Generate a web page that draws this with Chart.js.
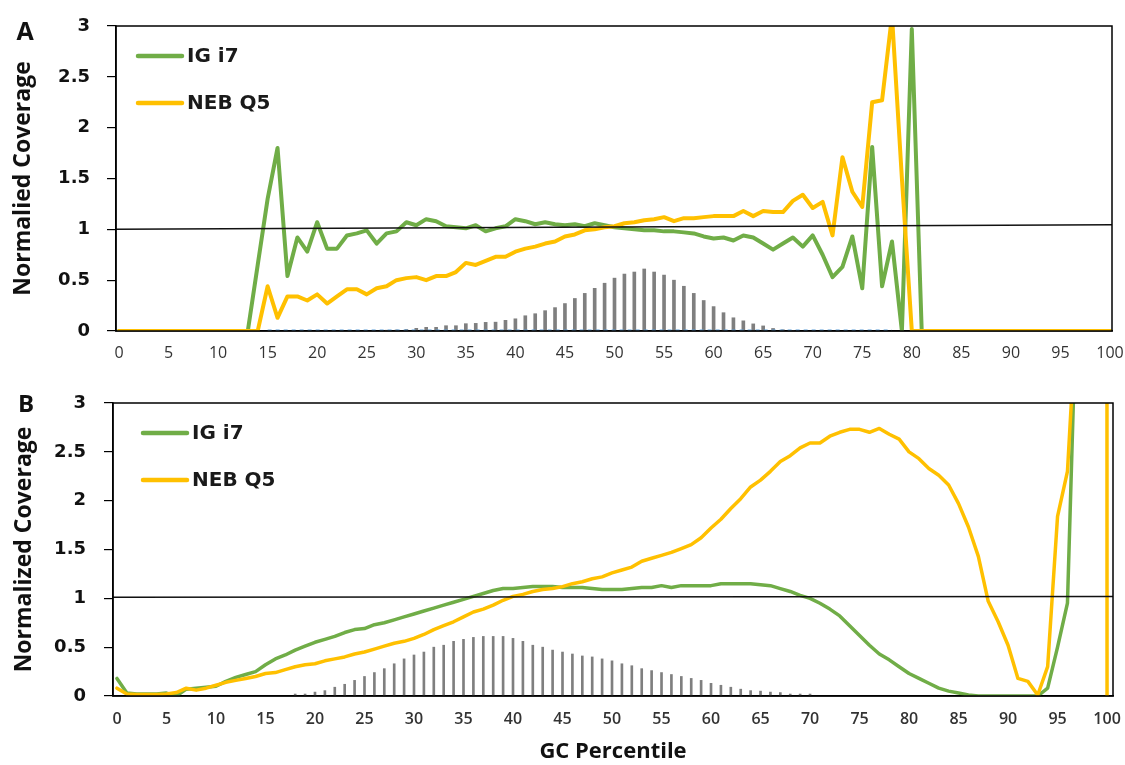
<!DOCTYPE html>
<html lang="en">
<head>
  <meta charset="UTF-8">
  <title>GC Percentile coverage</title>
  <script src="https://cdn.jsdelivr.net/npm/chart.js"></script>
  <style>
    body { margin: 0; background: #fff; }
    .panel { position: absolute; left: 0; }
    #panelA { top: 0; }
    #panelB { top: 375px; }
  </style>
</head>
<body>
  <div class="panel" id="panelA"><canvas id="chartA" width="1125" height="370"></canvas></div>
  <div class="panel" id="panelB"><canvas id="chartB" width="1125" height="390"></canvas></div>

  <script>
    // GC percentile 0..100
    const gcPercentile = [
      0, 1, 2, 3, 4, 5, 6, 7, 8, 9,
      10, 11, 12, 13, 14, 15, 16, 17, 18, 19,
      20, 21, 22, 23, 24, 25, 26, 27, 28, 29,
      30, 31, 32, 33, 34, 35, 36, 37, 38, 39,
      40, 41, 42, 43, 44, 45, 46, 47, 48, 49,
      50, 51, 52, 53, 54, 55, 56, 57, 58, 59,
      60, 61, 62, 63, 64, 65, 66, 67, 68, 69,
      70, 71, 72, 73, 74, 75, 76, 77, 78, 79,
      80, 81, 82, 83, 84, 85, 86, 87, 88, 89,
      90, 91, 92, 93, 94, 95, 96, 97, 98, 99,
      100
    ];
    const xTickLabels = [0, 5, 10, 15, 20, 25, 30, 35, 40, 45, 50, 55, 60, 65, 70, 75, 80, 85, 90, 95, 100];

    // Panel A
    const igA = [
      0, 0, 0, 0, 0, 0, 0, 0, 0, 0,
      0, 0, 0, 0, 0.65, 1.3, 1.8, 0.54, 0.92, 0.78,
      1.07, 0.81, 0.81, 0.94, 0.96, 0.99, 0.86, 0.96, 0.98, 1.07,
      1.04, 1.10, 1.08, 1.03, 1.02, 1.01, 1.04, 0.98, 1.01, 1.03,
      1.10, 1.08, 1.05, 1.07, 1.05, 1.04, 1.05, 1.03, 1.06, 1.04,
      1.02, 1.01, 1.00, 0.99, 0.99, 0.98, 0.98, 0.97, 0.96, 0.93,
      0.91, 0.92, 0.89, 0.94, 0.92, 0.86, 0.80, 0.86, 0.92, 0.83,
      0.94, 0.75, 0.53, 0.63, 0.93, 0.42, 1.81, 0.44, 0.88, 0,
      2.97, 0, 0, 0, 0, 0, 0, 0, 0, 0,
      0, 0, 0, 0, 0, 0, 0, 0, 0, 0,
      0
    ];
    const nebA = [
      0, 0, 0, 0, 0, 0, 0, 0, 0, 0,
      0, 0, 0, 0, 0, 0.44, 0.13, 0.34, 0.34, 0.30,
      0.36, 0.27, 0.34, 0.41, 0.41, 0.36, 0.42, 0.44, 0.50, 0.52,
      0.53, 0.50, 0.54, 0.54, 0.58, 0.67, 0.65, 0.69, 0.73, 0.73,
      0.78, 0.81, 0.83, 0.86, 0.88, 0.93, 0.95, 0.99, 1.00, 1.02,
      1.03, 1.06, 1.07, 1.09, 1.10, 1.12, 1.08, 1.11, 1.11, 1.12,
      1.13, 1.13, 1.13, 1.18, 1.13, 1.18, 1.17, 1.17, 1.28, 1.34,
      1.21, 1.27, 0.94, 1.71, 1.37, 1.22, 2.25, 2.27, 3.1, 1.5,
      0, 0, 0, 0, 0, 0, 0, 0, 0, 0,
      0, 0, 0, 0, 0, 0, 0, 0, 0, 0,
      0
    ];
    const histA = [
      null, null, null, null, null, null, null, null, null, null,
      null, null, null, null, null, null, null, null, null, null,
      null, null, null, null, null, null, null, 0.008, 0.01, 0.015,
      0.026, 0.036, 0.036, 0.052, 0.052, 0.072, 0.075, 0.085, 0.087, 0.105,
      0.12, 0.15, 0.17, 0.20, 0.23, 0.27, 0.32, 0.37, 0.42, 0.47,
      0.52, 0.56, 0.58, 0.61, 0.58, 0.55, 0.50, 0.44, 0.37, 0.30,
      0.24, 0.18, 0.13, 0.10, 0.07, 0.05, 0.025, 0.012, 0.006, null,
      null, null, null, null, null, null, null, null, null, null,
      null, null, null, null, null, null, null, null, null, null,
      null, null, null, null, null, null, null, null, null, null,
      null
    ];
    const baseA = [
      null, null, null, null, null, null, null, null, null, null,
      null, null, null, null, null, 0.008, 0.008, 0.008, 0.008, 0.008,
      0.008, 0.008, 0.008, 0.008, 0.008, 0.008, 0.008, 0.008, 0.008, 0.008,
      0.008, 0.008, 0.008, 0.008, 0.008, 0.008, 0.008, 0.008, 0.008, 0.008,
      0.008, 0.008, 0.008, 0.008, 0.008, 0.008, 0.008, 0.008, 0.008, 0.008,
      0.008, 0.008, 0.008, 0.008, 0.008, 0.008, 0.008, 0.008, 0.008, 0.008,
      0.008, 0.008, 0.008, 0.008, 0.008, 0.008, 0.008, 0.008, 0.008, 0.008,
      0.008, 0.008, 0.008, 0.008, 0.008, 0.008, 0.008, 0.008, 0.008, null,
      null, null, null, null, null, null, null, null, null, null,
      null, null, null, null, null, null, null, null, null, null,
      null
    ];
    const unityA = [1.0, 1.045];

    // Panel B
    const igB = [
      0.18, 0.03, 0.02, 0.02, 0.02, 0.03, 0.00, 0.07, 0.08, 0.09,
      0.10, 0.15, 0.19, 0.22, 0.25, 0.32, 0.38, 0.42, 0.47, 0.51,
      0.55, 0.58, 0.61, 0.65, 0.68, 0.69, 0.73, 0.75, 0.78, 0.81,
      0.84, 0.87, 0.90, 0.93, 0.96, 0.99, 1.02, 1.05, 1.08, 1.10,
      1.10, 1.11, 1.12, 1.12, 1.12, 1.11, 1.11, 1.11, 1.10, 1.09,
      1.09, 1.09, 1.10, 1.11, 1.11, 1.13, 1.11, 1.13, 1.13, 1.13,
      1.13, 1.15, 1.15, 1.15, 1.15, 1.14, 1.13, 1.10, 1.07, 1.03,
      1.00, 0.95, 0.89, 0.82, 0.72, 0.62, 0.52, 0.43, 0.37, 0.30,
      0.23, 0.18, 0.13, 0.08, 0.05, 0.03, 0.01, 0, 0, 0,
      0, 0, 0, 0, 0.08, 0.50, 0.95, 4.4, 40, 200,
      300
    ];
    const nebB = [
      0.08, 0.02, 0.015, 0.015, 0.015, 0.02, 0.035, 0.08, 0.06, 0.08,
      0.11, 0.14, 0.16, 0.18, 0.20, 0.23, 0.24, 0.27, 0.30, 0.32,
      0.33, 0.36, 0.38, 0.40, 0.43, 0.45, 0.48, 0.51, 0.54, 0.56,
      0.59, 0.63, 0.68, 0.72, 0.76, 0.81, 0.86, 0.89, 0.93, 0.98,
      1.02, 1.04, 1.07, 1.09, 1.10, 1.12, 1.15, 1.17, 1.20, 1.22,
      1.26, 1.29, 1.32, 1.38, 1.41, 1.44, 1.47, 1.51, 1.55, 1.62,
      1.72, 1.81, 1.92, 2.02, 2.14, 2.21, 2.30, 2.40, 2.46, 2.54,
      2.59, 2.59, 2.66, 2.70, 2.73, 2.73, 2.70, 2.74, 2.68, 2.63,
      2.50, 2.43, 2.33, 2.26, 2.16, 1.97, 1.73, 1.43, 0.97, 0.76,
      0.52, 0.18, 0.15, 0.01, 0.30, 1.84, 2.30, 4.1, 30, 400,
      0
    ];
    const histB = [
      null, null, null, null, null, null, null, null, null, null,
      null, null, null, null, null, null, null, null, 0.02, 0.02,
      0.04, 0.055, 0.09, 0.12, 0.16, 0.20, 0.24, 0.28, 0.33, 0.38,
      0.42, 0.45, 0.50, 0.52, 0.56, 0.58, 0.60, 0.61, 0.61, 0.61,
      0.59, 0.56, 0.52, 0.50, 0.47, 0.45, 0.43, 0.41, 0.40, 0.38,
      0.36, 0.33, 0.31, 0.28, 0.26, 0.24, 0.22, 0.20, 0.18, 0.16,
      0.13, 0.11, 0.09, 0.07, 0.055, 0.05, 0.04, 0.035, 0.02, 0.02,
      0.02, null, null, null, null, null, null, null, null, null,
      null, null, null, null, null, null, null, null, null, null,
      null, null, null, null, null, null, null, null, null, null,
      null
    ];
    const unityB = [1.01, 1.02];

    const FONT = '"Open Sans", "DejaVu Sans", sans-serif';
    const WIDE = '"DejaVu Sans", sans-serif';
    const GREEN = '#70ad47';
    const GOLD = '#ffc000';

    // frame, inside legend and panel letter
    const panelDecor = {
      id: 'panelDecor',
      afterDatasetsDraw(chart, args, opts) {
        const { ctx, chartArea: a } = chart;
        ctx.save();
        ctx.strokeStyle = '#000';
        ctx.lineWidth = 1.5;
        ctx.strokeRect(a.left, a.top, a.right - a.left, a.bottom - a.top);

        ctx.font = 'bold 20px ' + WIDE;
        ctx.textBaseline = 'middle';
        ctx.textAlign = 'left';
        const keyed = chart.data.datasets.filter(d => d.keyRank).sort((p, q) => p.keyRank - q.keyRank);
        keyed.forEach((d, i) => {
          const y = opts.keyY + i * opts.keyGap;
          ctx.strokeStyle = d.borderColor;
          ctx.lineWidth = 4.5;
          ctx.lineCap = 'round';
          ctx.beginPath();
          ctx.moveTo(opts.keyX, y);
          ctx.lineTo(opts.keyX + 44, y);
          ctx.stroke();
          ctx.fillStyle = '#1a1a1a';
          ctx.fillText(d.label, opts.keyX + 49, y + 1);
        });

        ctx.font = 'bold ' + opts.letterSize + 'px ' + FONT;
        ctx.textAlign = 'center';
        ctx.fillStyle = '#111';
        ctx.fillText(opts.letter, opts.letterX, opts.letterY);
        ctx.restore();
      }
    };

    function makePanel(canvasId, p) {
      const ctx = document.getElementById(canvasId).getContext('2d');
      return new Chart(ctx, {
        type: 'line',
        data: {
          labels: gcPercentile,
          datasets: [
            {
              type: 'line', label: 'unity', order: 0,
              data: [{ x: p.xMin, y: p.unity[0] }, { x: p.xMax, y: p.unity[1] }],
              borderColor: '#111', borderWidth: 1.5, pointRadius: 0
            },
            {
              label: 'NEB Q5', keyRank: 2, order: 1,
              data: p.neb, borderColor: GOLD, borderWidth: p.lineWidth,
              pointRadius: 0, tension: 0, borderJoinStyle: 'round', borderCapStyle: 'round'
            },
            {
              label: 'IG i7', keyRank: 1, order: 2,
              data: p.ig, borderColor: GREEN, borderWidth: p.lineWidth,
              pointRadius: 0, tension: 0, borderJoinStyle: 'round', borderCapStyle: 'round'
            },
            ...(p.base ? [{
              label: 'base', order: 3,
              data: p.base, borderColor: '#5b9bd5', borderWidth: 1.6, borderDash: [4, 4],
              pointRadius: 0, spanGaps: false
            }] : []),
            {
              type: 'bar', label: 'fraction', order: 4,
              data: p.hist, backgroundColor: '#7f7f7f', barThickness: p.barWidth
            }
          ]
        },
        options: {
          responsive: false,
          animation: false,
          layout: { padding: { top: p.padTop, left: 0, right: p.padRight, bottom: 0 } },
          plugins: {
            legend: { display: false },
            tooltip: { enabled: false },
            panelDecor: p.decor
          },
          scales: {
            x: {
              type: 'linear', min: p.xMin, max: p.xMax, offset: false,
              afterBuildTicks: s => { s.ticks = xTickLabels.map(v => ({ value: v })); },
              ticks: {
                autoSkip: false, maxRotation: 0, padding: p.xTickPad, color: '#333',
                font: { family: FONT, size: 16, weight: p.xTickWeight }
              },
              grid: { display: false, drawTicks: false, offset: false },
              border: { color: '#000', width: 1.5 },
              title: p.xTitle ? {
                display: true, text: p.xTitle, color: '#111',
                font: { family: FONT, size: 22, weight: 'bold' }, padding: { top: 0, bottom: 0 }
              } : { display: false },
              afterFit: s => { s.height = p.xHeight; s.paddingLeft = 0; s.paddingRight = 0; }
            },
            y: {
              min: 0, max: 3,
              ticks: {
                stepSize: 0.5, padding: p.yTickPad, color: '#111',
                font: { family: WIDE, size: 18, weight: 'bold' },
                callback: v => String(v)
              },
              grid: { drawOnChartArea: false, tickLength: 9, color: '#000', lineWidth: 1.2 },
              border: { color: '#000', width: 1.5 },
              title: {
                display: true, text: p.yTitle, color: '#111',
                font: { family: FONT, size: 23, weight: 'bold' }, padding: { top: p.yTitlePad, bottom: 0 }
              },
              afterFit: s => { s.width = p.yWidth; s.paddingTop = 0; s.paddingBottom = 0; }
            }
          }
        },
        plugins: [panelDecor]
      });
    }

    makePanel('chartA', {
      ig: igA, neb: nebA, hist: histA, base: baseA, unity: unityA,
      xMin: -0.3, xMax: 100.2, lineWidth: 4, barWidth: 3,
      padTop: 26, padRight: 13, xHeight: 39, yWidth: 116,
      xTickPad: 13, xTickWeight: 'normal', yTickPad: 17, yTitlePad: 10,
      yTitle: 'Normalied Coverage', xTitle: null,
      decor: { keyX: 138, keyY: 56, keyGap: 47, letter: 'A', letterSize: 25, letterX: 25, letterY: 33 }
    });

    makePanel('chartB', {
      ig: igB, neb: nebB, hist: histB, base: null, unity: unityB,
      xMin: -0.4, xMax: 100.6, lineWidth: 3.5, barWidth: 2,
      padTop: 28, padRight: 12, xHeight: 69, yWidth: 113,
      xTickPad: 14, xTickWeight: '600', yTickPad: 18, yTitlePad: 11,
      yTitle: 'Normalized Coverage', xTitle: 'GC Percentile',
      decor: { keyX: 143, keyY: 58, keyGap: 47, letter: 'B', letterSize: 24, letterX: 26, letterY: 30 }
    });
  </script>
</body>
</html>
